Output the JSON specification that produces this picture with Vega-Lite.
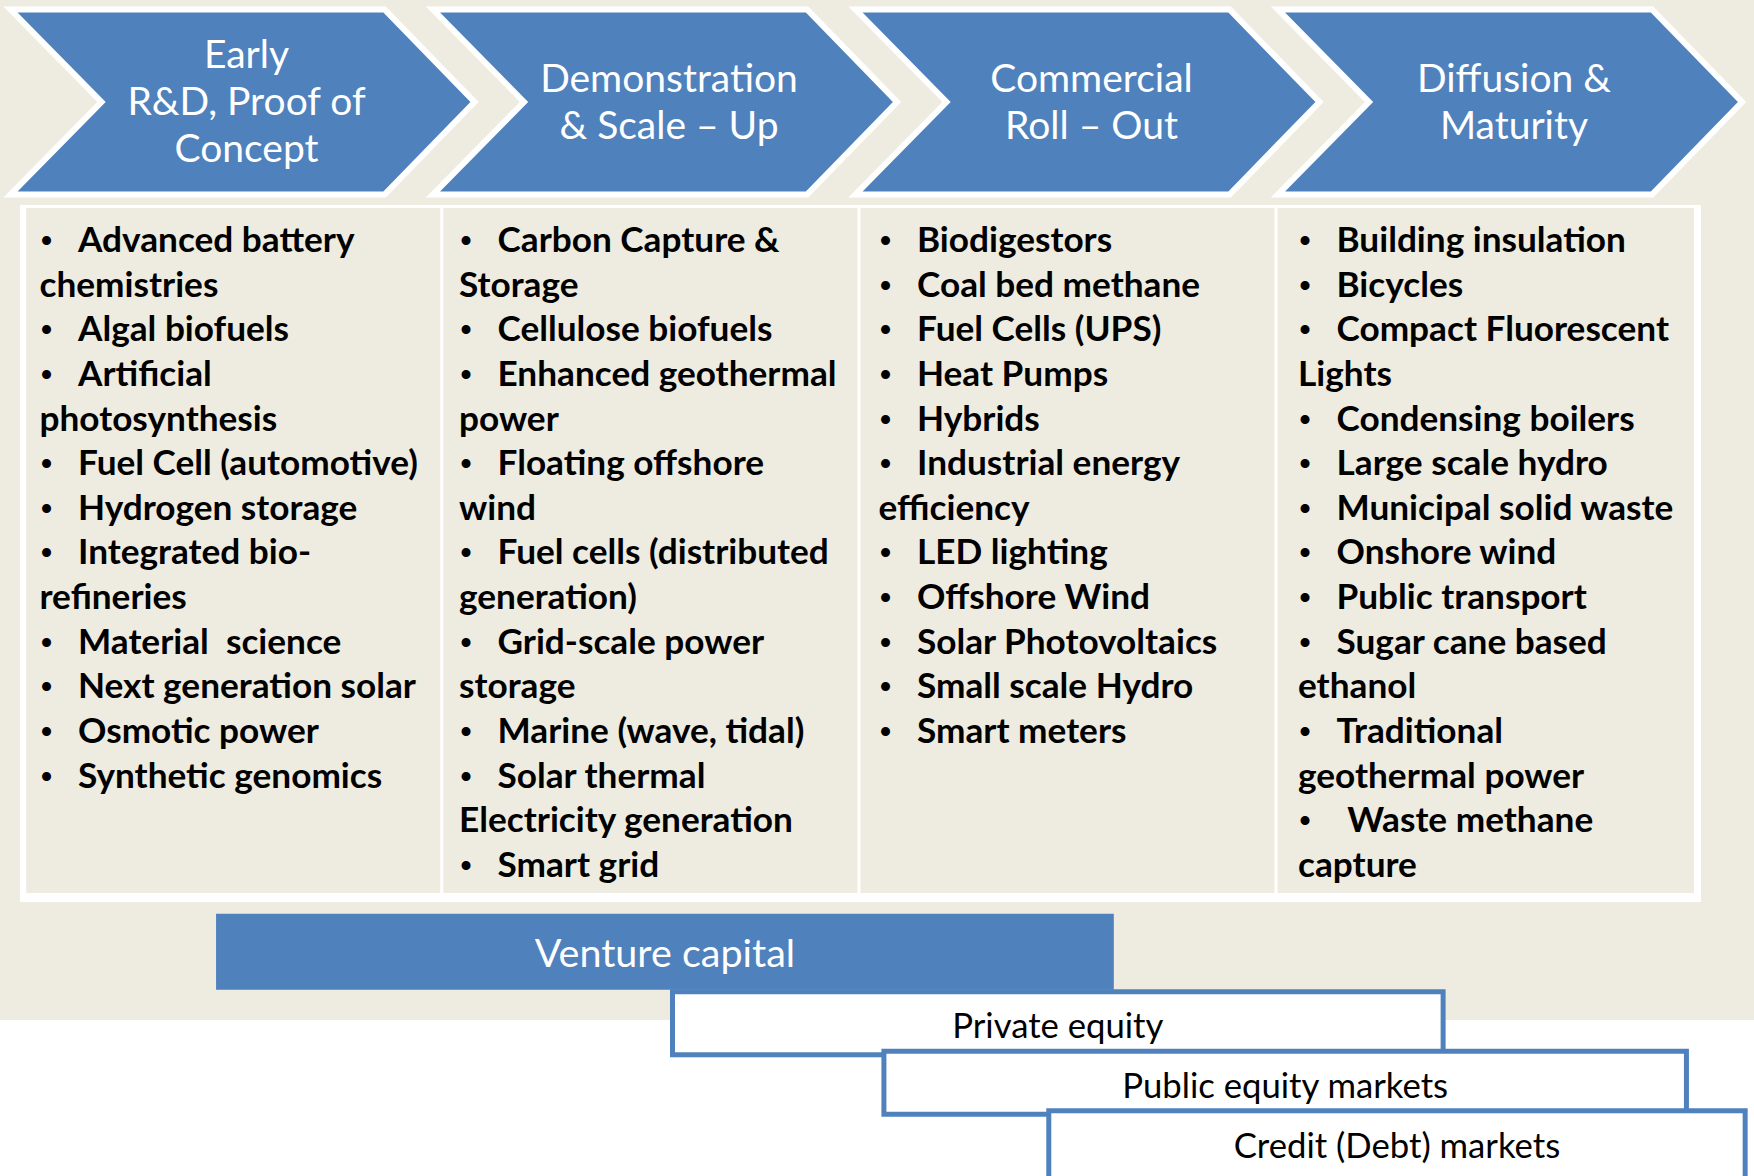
{
  "$schema": "https://vega.github.io/schema/vega-lite/v6.json",
  "width": 1754,
  "height": 1176,
  "padding": 0,
  "autosize": {"type": "none"},
  "background": "white",
  "config": {"view": {"stroke": null}},
  "datasets": {
    "stages": [
      {"stage": 1, "title": ["Early", "R&D, Proof of", "Concept"]},
      {"stage": 2, "title": ["Demonstration", "& Scale – Up"]},
      {"stage": 3, "title": ["Commercial", "Roll – Out"]},
      {"stage": 4, "title": ["Diffusion &", "Maturity"]}
    ],
    "funding": [
      {"name": "Venture capital", "tier": 0, "start": 0.465, "end": 2.605},
      {"name": "Private equity", "tier": 1, "start": 1.553, "end": 3.39},
      {"name": "Public equity markets", "tier": 2, "start": 2.057, "end": 3.97},
      {"name": "Credit (Debt) markets", "tier": 3, "start": 2.45, "end": 4.11}
    ],
    "tech": [
      {"stage": 1, "line": 1, "bullet": true, "text": "Advanced battery"},
      {"stage": 1, "line": 2, "bullet": false, "text": "chemistries"},
      {"stage": 1, "line": 3, "bullet": true, "text": "Algal biofuels"},
      {"stage": 1, "line": 4, "bullet": true, "text": "Artificial"},
      {"stage": 1, "line": 5, "bullet": false, "text": "photosynthesis"},
      {"stage": 1, "line": 6, "bullet": true, "text": "Fuel Cell (automotive)"},
      {"stage": 1, "line": 7, "bullet": true, "text": "Hydrogen storage"},
      {"stage": 1, "line": 8, "bullet": true, "text": "Integrated bio-"},
      {"stage": 1, "line": 9, "bullet": false, "text": "refineries"},
      {"stage": 1, "line": 10, "bullet": true, "text": "Material\u00a0 science"},
      {"stage": 1, "line": 11, "bullet": true, "text": "Next generation solar"},
      {"stage": 1, "line": 12, "bullet": true, "text": "Osmotic power"},
      {"stage": 1, "line": 13, "bullet": true, "text": "Synthetic genomics"},
      {"stage": 2, "line": 1, "bullet": true, "text": "Carbon Capture &"},
      {"stage": 2, "line": 2, "bullet": false, "text": "Storage"},
      {"stage": 2, "line": 3, "bullet": true, "text": "Cellulose biofuels"},
      {"stage": 2, "line": 4, "bullet": true, "text": "Enhanced geothermal"},
      {"stage": 2, "line": 5, "bullet": false, "text": "power"},
      {"stage": 2, "line": 6, "bullet": true, "text": "Floating offshore"},
      {"stage": 2, "line": 7, "bullet": false, "text": "wind"},
      {"stage": 2, "line": 8, "bullet": true, "text": "Fuel cells (distributed"},
      {"stage": 2, "line": 9, "bullet": false, "text": "generation)"},
      {"stage": 2, "line": 10, "bullet": true, "text": "Grid-scale power"},
      {"stage": 2, "line": 11, "bullet": false, "text": "storage"},
      {"stage": 2, "line": 12, "bullet": true, "text": "Marine (wave, tidal)"},
      {"stage": 2, "line": 13, "bullet": true, "text": "Solar thermal"},
      {"stage": 2, "line": 14, "bullet": false, "text": "Electricity generation"},
      {"stage": 2, "line": 15, "bullet": true, "text": "Smart grid"},
      {"stage": 3, "line": 1, "bullet": true, "text": "Biodigestors"},
      {"stage": 3, "line": 2, "bullet": true, "text": "Coal bed methane"},
      {"stage": 3, "line": 3, "bullet": true, "text": "Fuel Cells (UPS)"},
      {"stage": 3, "line": 4, "bullet": true, "text": "Heat Pumps"},
      {"stage": 3, "line": 5, "bullet": true, "text": "Hybrids"},
      {"stage": 3, "line": 6, "bullet": true, "text": "Industrial energy"},
      {"stage": 3, "line": 7, "bullet": false, "text": "efficiency"},
      {"stage": 3, "line": 8, "bullet": true, "text": "LED lighting"},
      {"stage": 3, "line": 9, "bullet": true, "text": "Offshore Wind"},
      {"stage": 3, "line": 10, "bullet": true, "text": "Solar Photovoltaics"},
      {"stage": 3, "line": 11, "bullet": true, "text": "Small scale Hydro"},
      {"stage": 3, "line": 12, "bullet": true, "text": "Smart meters"},
      {"stage": 4, "line": 1, "bullet": true, "text": "Building insulation"},
      {"stage": 4, "line": 2, "bullet": true, "text": "Bicycles"},
      {"stage": 4, "line": 3, "bullet": true, "text": "Compact Fluorescent"},
      {"stage": 4, "line": 4, "bullet": false, "text": "Lights"},
      {"stage": 4, "line": 5, "bullet": true, "text": "Condensing boilers"},
      {"stage": 4, "line": 6, "bullet": true, "text": "Large scale hydro"},
      {"stage": 4, "line": 7, "bullet": true, "text": "Municipal solid waste"},
      {"stage": 4, "line": 8, "bullet": true, "text": "Onshore wind"},
      {"stage": 4, "line": 9, "bullet": true, "text": "Public transport"},
      {"stage": 4, "line": 10, "bullet": true, "text": "Sugar cane based"},
      {"stage": 4, "line": 11, "bullet": false, "text": "ethanol"},
      {"stage": 4, "line": 12, "bullet": true, "text": "Traditional"},
      {"stage": 4, "line": 13, "bullet": false, "text": "geothermal power"},
      {"stage": 4, "line": 14, "bullet": true, "text": "\u200b\u00a0\u200aWaste methane"},
      {"stage": 4, "line": 15, "bullet": false, "text": "capture"}
    ]
  },
  "resolve": {"scale": {"x": "independent", "y": "independent"}},
  "layer": [
    {
      "data": {"values": [{}]},
      "mark": {"type": "rect", "color": "#EEECE1"},
      "encoding": {
        "x": {"datum": -0.05006, "type": "quantitative", "scale": {"domain": [-0.05006, 4.13108], "nice": false, "zero": false}, "axis": null},
        "x2": {"datum": 4.13108},
        "y": {"datum": -4.64516, "type": "quantitative", "scale": {"domain": [-4.64516, 21.69892], "reverse": true, "nice": false, "zero": false}, "axis": null},
        "y2": {"datum": 18.204}
      }
    },
    {
      "data": {"values": [{}]},
      "mark": {"type": "rect", "color": "white"},
      "encoding": {
        "x": {"datum": -0.00238, "type": "quantitative", "scale": {"domain": [-0.05006, 4.13108], "nice": false, "zero": false}, "axis": null},
        "x2": {"datum": 4.00474},
        "y": {"datum": -0.0529, "type": "quantitative", "scale": {"domain": [-4.64516, 21.69892], "reverse": true, "nice": false, "zero": false}, "axis": null},
        "y2": {"datum": 15.561}
      }
    },
    {
      "data": {"name": "stages"},
      "mark": {"type": "bar", "orient": "vertical", "width": 419.5, "fill": "#EEECE1", "stroke": "white", "strokeWidth": 3},
      "encoding": {
        "x": {"field": "stage", "type": "quantitative", "scale": {"domain": [0.44994, 4.63108], "nice": false, "zero": false}, "axis": null},
        "y": {"datum": -0.0193, "type": "quantitative", "scale": {"domain": [-4.64516, 21.69892], "reverse": true, "nice": false, "zero": false}, "axis": null},
        "y2": {"datum": 15.393}
      }
    },
    {
      "data": {"name": "stages"},
      "mark": {"type": "point", "shape": "M-1,-0.3987L0.6121,-0.3987L1,0L0.6121,0.3987L-1,0.3987L-0.6078,0Z", "size": 215296, "filled": true, "fill": "#4F81BD", "stroke": "white", "strokeWidth": 6, "opacity": 1},
      "encoding": {
        "x": {"field": "stage", "type": "quantitative", "scale": {"domain": [0.426036, 4.577515], "nice": false, "zero": false}, "axis": null},
        "y": {"datum": -2.36, "type": "quantitative", "scale": {"domain": [-4.64516, 21.69892], "reverse": true, "nice": false, "zero": false}, "axis": null}
      }
    },
    {
      "data": {"name": "stages"},
      "transform": [{"filter": "length(datum.title) == 3"}],
      "mark": {"type": "text", "font": "Lato", "fontSize": 39, "lineHeight": 47, "color": "white", "align": "center", "baseline": "alphabetic", "dx": 4, "dy": -34},
      "encoding": {
        "x": {"field": "stage", "type": "quantitative", "scale": {"domain": [0.426036, 4.577515], "nice": false, "zero": false}, "axis": null},
        "y": {"datum": -2.36, "type": "quantitative", "scale": {"domain": [-4.64516, 21.69892], "reverse": true, "nice": false, "zero": false}, "axis": null},
        "text": {"field": "title", "type": "nominal"}
      }
    },
    {
      "data": {"name": "stages"},
      "transform": [{"filter": "length(datum.title) == 2"}],
      "mark": {"type": "text", "font": "Lato", "fontSize": 39, "lineHeight": 47, "color": "white", "align": "center", "baseline": "alphabetic", "dx": 4, "dy": -10.5},
      "encoding": {
        "x": {"field": "stage", "type": "quantitative", "scale": {"domain": [0.426036, 4.577515], "nice": false, "zero": false}, "axis": null},
        "y": {"datum": -2.36, "type": "quantitative", "scale": {"domain": [-4.64516, 21.69892], "reverse": true, "nice": false, "zero": false}, "axis": null},
        "text": {"field": "title", "type": "nominal"}
      }
    },
    {
      "data": {"name": "tech"},
      "transform": [{"filter": "datum.bullet"}],
      "mark": {"type": "text", "font": "Liberation Sans", "fontSize": 33, "color": "black", "align": "center", "baseline": "alphabetic", "dx": -184.25},
      "encoding": {
        "x": {"field": "stage", "type": "quantitative", "scale": {"domain": [0.44994, 4.63108], "nice": false, "zero": false}, "axis": null},
        "y": {"field": "line", "type": "quantitative", "scale": {"domain": [-4.64516, 21.69892], "reverse": true, "nice": false, "zero": false}, "axis": null},
        "text": {"value": "•"}
      }
    },
    {
      "data": {"name": "tech"},
      "transform": [{"filter": "datum.bullet"}],
      "mark": {"type": "text", "font": "Lato", "fontWeight": "bold", "fontSize": 35.2, "color": "black", "align": "left", "baseline": "alphabetic", "dx": -152.75},
      "encoding": {
        "x": {"field": "stage", "type": "quantitative", "scale": {"domain": [0.44994, 4.63108], "nice": false, "zero": false}, "axis": null},
        "y": {"field": "line", "type": "quantitative", "scale": {"domain": [-4.64516, 21.69892], "reverse": true, "nice": false, "zero": false}, "axis": null},
        "text": {"field": "text", "type": "nominal"}
      }
    },
    {
      "data": {"name": "tech"},
      "transform": [{"filter": "!datum.bullet"}],
      "mark": {"type": "text", "font": "Lato", "fontWeight": "bold", "fontSize": 35.2, "color": "black", "align": "left", "baseline": "alphabetic", "dx": -191.25},
      "encoding": {
        "x": {"field": "stage", "type": "quantitative", "scale": {"domain": [0.44994, 4.63108], "nice": false, "zero": false}, "axis": null},
        "y": {"field": "line", "type": "quantitative", "scale": {"domain": [-4.64516, 21.69892], "reverse": true, "nice": false, "zero": false}, "axis": null},
        "text": {"field": "text", "type": "nominal"}
      }
    },
    {
      "data": {"name": "funding"},
      "transform": [{"filter": "datum.tier == 0"}],
      "mark": {"type": "bar", "orient": "horizontal", "height": 76, "yOffset": -12, "fill": "#4F81BD"},
      "encoding": {
        "x": {"field": "start", "type": "quantitative", "scale": {"domain": [-0.05006, 4.13108], "nice": false, "zero": false}, "axis": null},
        "x2": {"field": "end"},
        "y": {"field": "tier", "type": "quantitative", "scale": {"domain": [-16.11667, 3.48333], "reverse": true, "nice": false, "zero": false}, "axis": null}
      }
    },
    {
      "data": {"name": "funding"},
      "transform": [{"filter": "datum.tier == 1 || datum.tier == 2"}],
      "mark": {"type": "bar", "orient": "horizontal", "height": 63, "fill": "white", "stroke": "#4F81BD", "strokeWidth": 5},
      "encoding": {
        "x": {"field": "start", "type": "quantitative", "scale": {"domain": [-0.05006, 4.13108], "nice": false, "zero": false}, "axis": null},
        "x2": {"field": "end"},
        "y": {"field": "tier", "type": "quantitative", "scale": {"domain": [-16.11667, 3.48333], "reverse": true, "nice": false, "zero": false}, "axis": null}
      }
    },
    {
      "data": {"name": "funding"},
      "transform": [{"filter": "datum.tier == 3"}],
      "mark": {"type": "bar", "orient": "horizontal", "height": 90, "yOffset": 13.5, "fill": "white", "stroke": "#4F81BD", "strokeWidth": 5},
      "encoding": {
        "x": {"field": "start", "type": "quantitative", "scale": {"domain": [-0.05006, 4.13108], "nice": false, "zero": false}, "axis": null},
        "x2": {"field": "end"},
        "y": {"field": "tier", "type": "quantitative", "scale": {"domain": [-16.11667, 3.48333], "reverse": true, "nice": false, "zero": false}, "axis": null}
      }
    },
    {
      "data": {"name": "funding"},
      "transform": [
        {"filter": "datum.tier == 0"},
        {"fold": ["start", "end"], "as": ["edge", "pos"]},
        {"aggregate": [{"op": "mean", "field": "pos", "as": "mid"}], "groupby": ["name", "tier"]}
      ],
      "mark": {"type": "text", "font": "Lato", "fontSize": 39.5, "color": "white", "align": "center", "baseline": "alphabetic"},
      "encoding": {
        "x": {"field": "mid", "type": "quantitative", "scale": {"domain": [-0.05006, 4.13108], "nice": false, "zero": false}, "axis": null},
        "y": {"field": "tier", "type": "quantitative", "scale": {"domain": [-16.11667, 3.48333], "reverse": true, "nice": false, "zero": false}, "axis": null},
        "text": {"field": "name", "type": "nominal"}
      }
    },
    {
      "data": {"name": "funding"},
      "transform": [
        {"filter": "datum.tier > 0"},
        {"fold": ["start", "end"], "as": ["edge", "pos"]},
        {"aggregate": [{"op": "mean", "field": "pos", "as": "mid"}], "groupby": ["name", "tier"]}
      ],
      "mark": {"type": "text", "font": "Lato", "fontSize": 34.7, "color": "black", "align": "center", "baseline": "alphabetic", "dy": 10.5},
      "encoding": {
        "x": {"field": "mid", "type": "quantitative", "scale": {"domain": [-0.05006, 4.13108], "nice": false, "zero": false}, "axis": null},
        "y": {"field": "tier", "type": "quantitative", "scale": {"domain": [-16.11667, 3.48333], "reverse": true, "nice": false, "zero": false}, "axis": null},
        "text": {"field": "name", "type": "nominal"}
      }
    }
  ]
}
